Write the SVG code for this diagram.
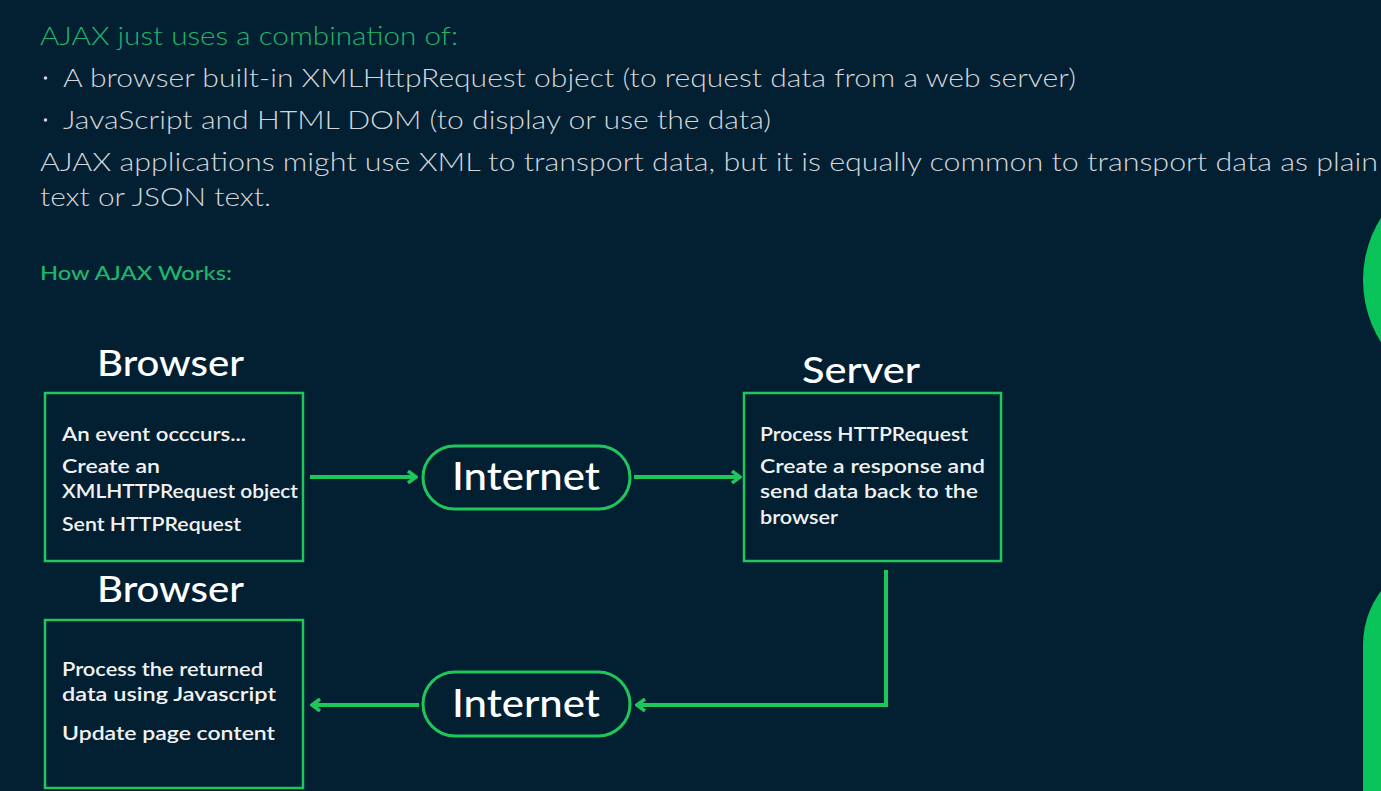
<svg xmlns="http://www.w3.org/2000/svg" width="1381" height="791" viewBox="0 0 1381 791">
<defs>
<style>
.bg{fill:#032033}
.hd{font-family:Lato,"Noto Sans",sans-serif;fill:#21b56c;font-weight:300}
.hd2{font-family:Lato,"Noto Sans",sans-serif;fill:#21b56c;font-weight:500;font-size:20px}
.tx{font-family:Lato,"Noto Sans",sans-serif;fill:#d3d6da;font-size:26px;font-weight:300}
.ttl{font-family:Lato,"Noto Sans",sans-serif;fill:#ffffff;font-size:37px;font-weight:500}
.bt{font-family:Lato,"Noto Sans",sans-serif;fill:#f2f2f2;font-size:19px;font-weight:600}
.box{fill:none;stroke:#1fc65c;stroke-width:2.5}
.pill{fill:none;stroke:#1fc65c;stroke-width:3}
.inet{font-family:Lato,"Noto Sans",sans-serif;fill:#ffffff;font-size:38px;font-weight:500}
.ln{fill:none;stroke:#1fc65c;stroke-width:4;stroke-linejoin:miter}
.deco{fill:#0ac45a}
.dot{fill:#d3d6da}
</style>
<marker id="ah" viewBox="0 0 12 14" refX="10" refY="7" markerWidth="12" markerHeight="14" markerUnits="userSpaceOnUse" orient="auto">
<path d="M2,1 L10,7 L2,13" fill="none" stroke="#1fc65c" stroke-width="3.5"/>
</marker>
</defs>
<rect class="bg" x="0" y="0" width="1381" height="791"/>
<g id="decorations">
<circle class="deco" cx="1480" cy="280" r="117"/>
<rect class="deco" x="1363" y="555" width="200" height="400" rx="90"/>
</g>
<g id="intro">
<text class="hd" x="40" y="45" font-size="26" textLength="418" lengthAdjust="spacingAndGlyphs">AJAX just uses a combination of:</text>
<circle class="dot" cx="45.5" cy="78" r="1.8"/>
<text class="tx" x="63" y="87" textLength="1013" lengthAdjust="spacingAndGlyphs">A browser built-in XMLHttpRequest object (to request data from a web server)</text>
<circle class="dot" cx="45.5" cy="120" r="1.8"/>
<text class="tx" x="63" y="129" textLength="708" lengthAdjust="spacingAndGlyphs">JavaScript and HTML DOM (to display or use the data)</text>
<text class="tx" x="40" y="171" textLength="1338" lengthAdjust="spacingAndGlyphs">AJAX applications might use XML to transport data, but it is equally common to transport data as plain</text>
<text class="tx" x="40" y="206" textLength="231" lengthAdjust="spacingAndGlyphs">text or JSON text.</text>
<text class="hd2" x="40" y="280" textLength="192" lengthAdjust="spacingAndGlyphs">How AJAX Works:</text>
</g>
<g id="connectors">
<line class="ln" x1="310" y1="477" x2="416" y2="477" marker-end="url(#ah)"/>
<line class="ln" x1="634" y1="477" x2="740" y2="477" marker-end="url(#ah)"/>
<polyline class="ln" points="886,570 886,705 637,705" marker-end="url(#ah)"/>
<line class="ln" x1="419" y1="705" x2="312" y2="705" marker-end="url(#ah)"/>
</g>
<g id="browser1">
<text class="ttl" x="97" y="376" textLength="147" lengthAdjust="spacingAndGlyphs">Browser</text>
<rect class="box" x="45" y="393" width="258" height="168"/>
<text class="bt" x="62" y="441" textLength="184" lengthAdjust="spacingAndGlyphs">An event occcurs...</text>
<text class="bt" x="62" y="473" textLength="98" lengthAdjust="spacingAndGlyphs">Create an</text>
<text class="bt" x="62" y="498" textLength="236" lengthAdjust="spacingAndGlyphs">XMLHTTPRequest object</text>
<text class="bt" x="62" y="531" textLength="179" lengthAdjust="spacingAndGlyphs">Sent HTTPRequest</text>
</g>
<g id="internet1">
<rect class="pill" x="423" y="446" width="207" height="63" rx="31.5"/>
<text class="inet" x="526" y="490" text-anchor="middle" textLength="148" lengthAdjust="spacingAndGlyphs">Internet</text>
</g>
<g id="server">
<text class="ttl" x="802" y="383" textLength="118" lengthAdjust="spacingAndGlyphs">Server</text>
<rect class="box" x="744" y="393" width="257" height="168"/>
<text class="bt" x="760" y="441" textLength="208" lengthAdjust="spacingAndGlyphs">Process HTTPRequest</text>
<text class="bt" x="760" y="473" textLength="225" lengthAdjust="spacingAndGlyphs">Create a response and</text>
<text class="bt" x="760" y="498" textLength="218" lengthAdjust="spacingAndGlyphs">send data back to the</text>
<text class="bt" x="760" y="524" textLength="78" lengthAdjust="spacingAndGlyphs">browser</text>
</g>
<g id="internet2">
<rect class="pill" x="423" y="672" width="207" height="64" rx="32"/>
<text class="inet" x="526" y="717" text-anchor="middle" textLength="148" lengthAdjust="spacingAndGlyphs">Internet</text>
</g>
<g id="browser2">
<text class="ttl" x="97" y="602" textLength="147" lengthAdjust="spacingAndGlyphs">Browser</text>
<rect class="box" x="45" y="620" width="258" height="168"/>
<text class="bt" x="62" y="676" textLength="201" lengthAdjust="spacingAndGlyphs">Process the returned</text>
<text class="bt" x="62" y="701" textLength="214" lengthAdjust="spacingAndGlyphs">data using Javascript</text>
<text class="bt" x="62" y="740" textLength="213" lengthAdjust="spacingAndGlyphs">Update page content</text>
</g>
</svg>
